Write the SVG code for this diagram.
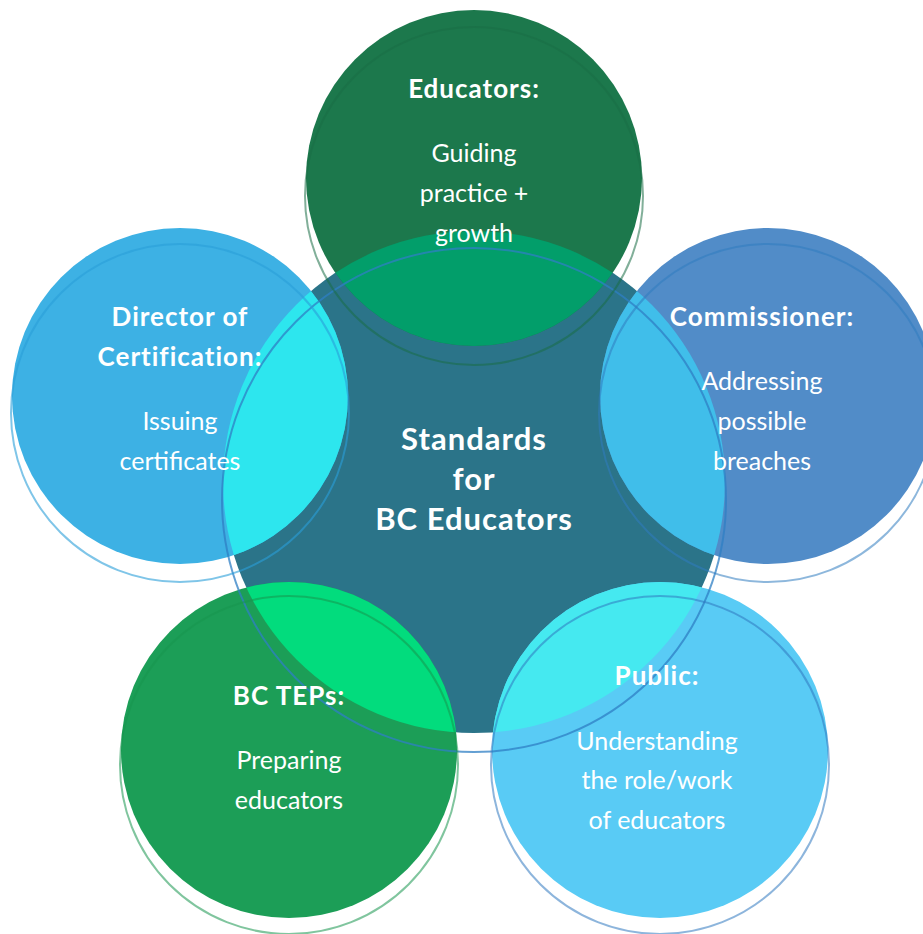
<svg xmlns="http://www.w3.org/2000/svg" width="923" height="934" viewBox="0 0 923 934">
<defs>
<style>
.t{font-family:Lato,"Liberation Sans",sans-serif;fill:#fff;text-anchor:middle;font-size:25px}
.b{font-weight:bold;font-size:26px;letter-spacing:1px}
.c{font-family:Lato,"Liberation Sans",sans-serif;fill:#fff;text-anchor:middle;font-size:31px;font-weight:bold;letter-spacing:1px}
.ring{fill:none;stroke-width:2}
</style>
<clipPath id="cc"><circle cx="474" cy="482" r="251"/></clipPath>
</defs>
<rect width="923" height="934" fill="#fff"/>
<g id="center-fill"><circle cx="474" cy="482" r="251" fill="#2B7489"/></g>
<g id="educators">
<circle cx="474" cy="178" r="168" fill="#1C784C"/>
<circle cx="474" cy="178" r="168" fill="#029E6A" clip-path="url(#cc)"/>
</g>
<g id="director">
<circle cx="180" cy="396" r="168" fill="#3DB1E4"/>
<circle cx="180" cy="396" r="168" fill="#2DE6EE" clip-path="url(#cc)"/>
</g>
<g id="commissioner">
<circle cx="768" cy="396" r="168" fill="#518CC8"/>
<circle cx="768" cy="396" r="168" fill="#40BEEA" clip-path="url(#cc)"/>
</g>
<g id="teps">
<circle cx="289" cy="750" r="168" fill="#1C9E57"/>
<circle cx="289" cy="750" r="168" fill="#02DC7D" clip-path="url(#cc)"/>
</g>
<g id="public">
<circle cx="660" cy="750" r="168" fill="#59CBF5"/>
<circle cx="660" cy="750" r="168" fill="#45E9F0" clip-path="url(#cc)"/>
</g>
<g id="rings">
<circle class="ring" cx="474" cy="500" r="252" stroke="#2F7FC4" stroke-opacity="0.75"/>
<circle class="ring" cx="474" cy="196" r="169" stroke="#1A6E46" stroke-opacity="0.55"/>
<circle class="ring" cx="180" cy="413" r="169" stroke="#2A9FD8" stroke-opacity="0.6"/>
<circle class="ring" cx="768" cy="413" r="169" stroke="#2F7CC0" stroke-opacity="0.55"/>
<circle class="ring" cx="289" cy="765" r="169" stroke="#17964F" stroke-opacity="0.55"/>
<circle class="ring" cx="660" cy="765" r="169" stroke="#2F78C0" stroke-opacity="0.55"/>
</g>
<g id="labels">
<text class="t b" x="474" y="98">Educators:</text>
<text class="t" x="474" y="162">Guiding</text>
<text class="t" x="474" y="202">practice +</text>
<text class="t" x="474" y="242">growth</text>
<text class="t b" x="180" y="326">Director of</text>
<text class="t b" x="180" y="366">Certification:</text>
<text class="t" x="180" y="430">Issuing</text>
<text class="t" x="180" y="470">certificates</text>
<text class="t b" x="762" y="326">Commissioner:</text>
<text class="t" x="762" y="390">Addressing</text>
<text class="t" x="762" y="430">possible</text>
<text class="t" x="762" y="470">breaches</text>
<text class="c" x="474" y="450">Standards</text>
<text class="c" x="474" y="490">for</text>
<text class="c" x="474" y="530">BC Educators</text>
<text class="t b" x="289" y="705">BC TEPs:</text>
<text class="t" x="289" y="769">Preparing</text>
<text class="t" x="289" y="809">educators</text>
<text class="t b" x="657" y="685">Public:</text>
<text class="t" x="657" y="750">Understanding</text>
<text class="t" x="657" y="789">the role/work</text>
<text class="t" x="657" y="829">of educators</text>
</g>
</svg>
